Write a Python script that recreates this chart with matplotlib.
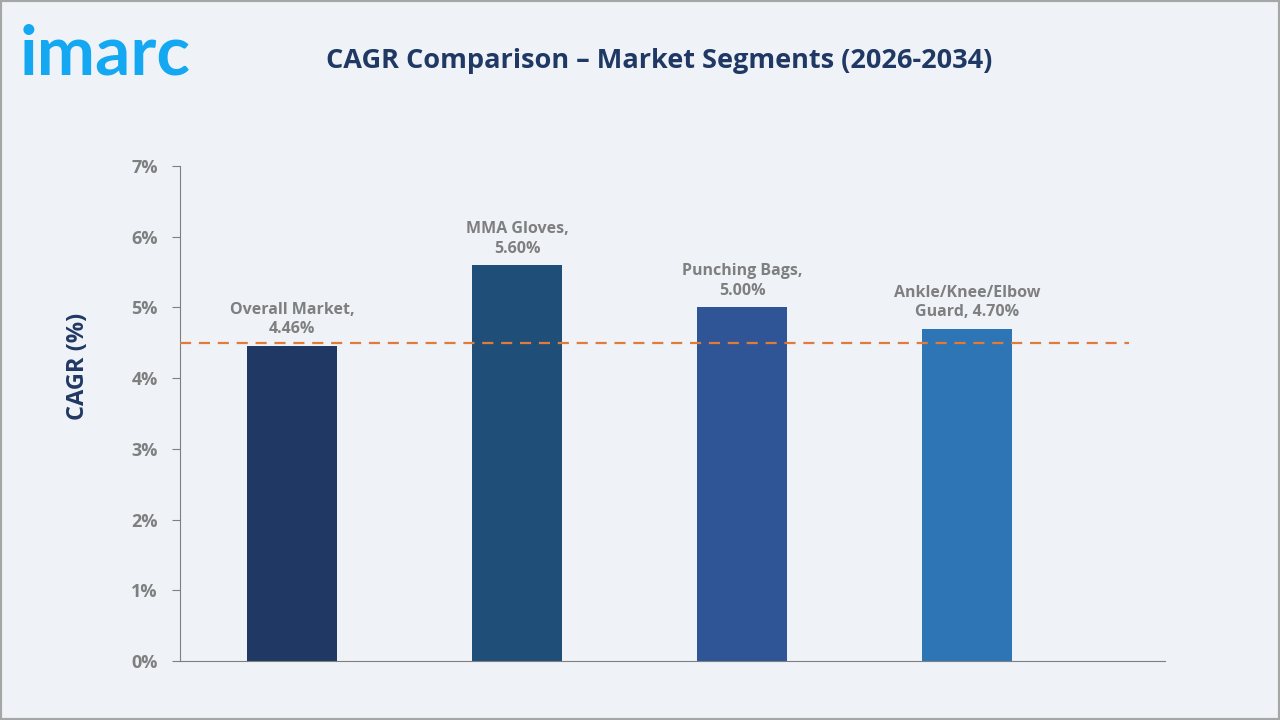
import matplotlib.pyplot as plt
from matplotlib.patches import Rectangle

# Data
segments = ["Overall Market", "MMA Gloves", "Punching Bags", "Ankle/Knee/Elbow\nGuard"]
cagr = [4.46, 5.60, 5.00, 4.70]
bar_labels = ["Overall Market,\n4.46%", "MMA Gloves,\n5.60%", "Punching Bags,\n5.00%",
              "Ankle/Knee/Elbow\nGuard, 4.70%"]
bar_colors = ["#203864", "#1F4E79", "#2F5597", "#2E75B6"]
reference_line = 4.5
yticks = [0, 1, 2, 3, 4, 5, 6, 7]

bg = "#EFF3F8"
grey = "#7F7F7F"
navy = "#203864"

plt.rcParams["font.family"] = ["Open Sans", "DejaVu Sans"]

fig = plt.figure(figsize=(12.8, 7.2), dpi=100, facecolor=bg)
# Thin grey border around the figure
fig.patches.append(Rectangle((0, 0), 1, 1, transform=fig.transFigure, fill=False,
                             edgecolor="#A6A6A6", linewidth=3))

ax = fig.add_axes([0.1406, 0.0819, 0.7696, 0.6875])
ax.set_facecolor(bg)

x = list(range(len(cagr)))
ax.bar(x, cagr, width=0.4, color=bar_colors, zorder=2)

# Dashed reference line (overall market)
ax.plot([-0.5, 3.72], [reference_line, reference_line], linestyle=(0, (5, 3.5)),
        color="#E07B39", linewidth=1.6, zorder=3)

for xi, v, lab in zip(x, cagr, bar_labels):
    ax.text(xi, v + 0.12, lab, ha="center", va="bottom", fontsize=11.5,
            fontweight="bold", color=grey, linespacing=1.3, zorder=4)

ax.set_xlim(-0.5, 3.88)
ax.set_ylim(0, 7)
ax.set_yticks(yticks)
ax.set_yticklabels([f"{t}%" for t in yticks], fontsize=13, fontweight="bold", color=grey)
ax.set_xticks([])
ax.tick_params(axis="y", direction="out", length=6, color=grey, pad=10)

for side in ["top", "right"]:
    ax.spines[side].set_visible(False)
ax.spines["left"].set_color(grey)
ax.spines["bottom"].set_color(grey)

ax.set_ylabel("CAGR (%)", fontsize=17, fontweight="bold", color=navy)
ax.yaxis.set_label_coords(-0.091, 0.596)

fig.text(0.515, 0.915, "CAGR Comparison \u2013 Market Segments (2026-2034)",
         ha="center", va="center", fontsize=19.5, fontweight="bold", color=navy)

# Logo
fig.text(0.015, 0.896, "imarc", ha="left", va="baseline", fontsize=50,
         fontweight="bold", color="#14A8F2", family=["Lato", "DejaVu Sans"])

fig.savefig("out.png", dpi=100, facecolor=bg)
